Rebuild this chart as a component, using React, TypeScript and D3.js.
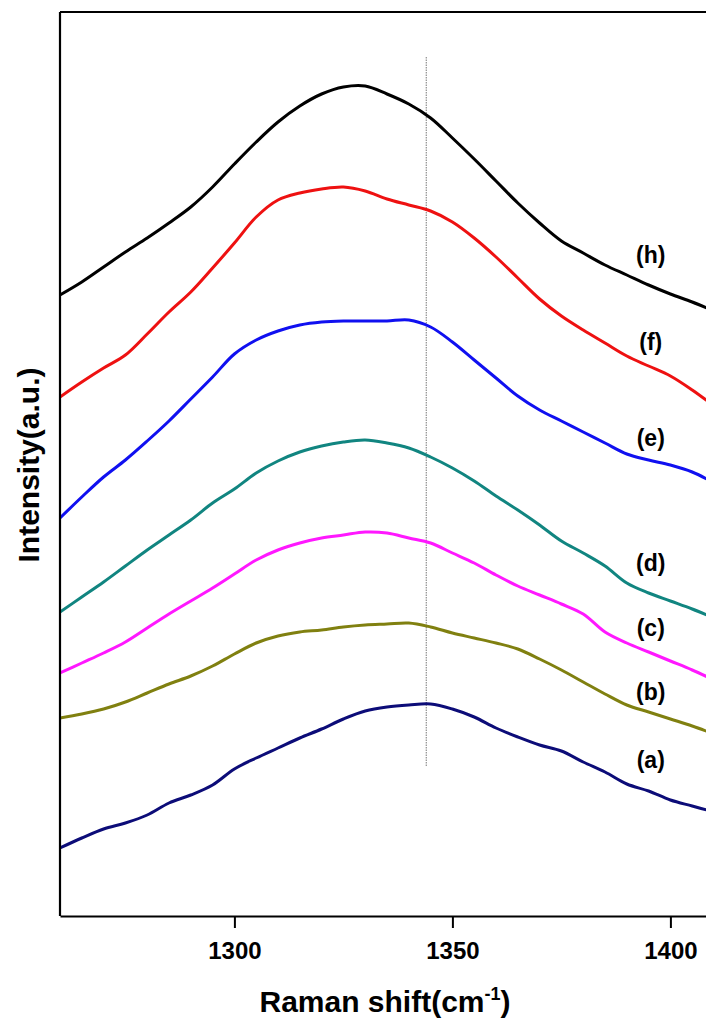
import { useEffect, useRef } from "react";
import * as d3 from "d3";

// Raman shift grid (cm-1), shared by every spectrum
const shifts = [
  1260, 1265, 1270, 1275, 1280, 1285, 1290, 1295, 1300, 1305, 1310, 1315, 1320, 1325, 1330, 1335,
  1340, 1345, 1350, 1355, 1360, 1365, 1370, 1375, 1380, 1385, 1390, 1395, 1400, 1405, 1410,
];

// stacked intensities (a.u.)
const seriesA = [68, 78, 87, 93, 101, 113, 121, 131, 147, 158, 168, 178, 187, 197, 205, 209, 211, 212, 207, 199, 188, 179, 171, 165, 154, 144, 132, 125, 116, 110, 104];
const seriesB = [198, 202, 207, 214, 223, 232, 240, 250, 262, 273, 280, 284, 286, 289, 291, 292, 293, 289, 283, 278, 273, 267, 257, 246, 234, 222, 211, 204, 197, 190, 182];
const seriesC = [243, 253, 263, 274, 288, 302, 315, 328, 342, 356, 366, 373, 378, 381, 384, 383, 378, 373, 363, 353, 341, 330, 321, 312, 302, 284, 273, 264, 255, 246, 236];
const seriesD = [304, 319, 334, 350, 366, 381, 396, 413, 427, 443, 455, 464, 470, 474, 476, 473, 468, 459, 448, 435, 420, 406, 391, 375, 363, 350, 333, 323, 315, 307, 298];
const seriesE = [398, 419, 439, 456, 475, 495, 517, 539, 562, 576, 585, 591, 594, 595, 595, 595, 596, 589, 574, 556, 538, 520, 506, 495, 484, 473, 462, 456, 451, 444, 433];
const seriesF = [519, 534, 548, 561, 582, 604, 624, 648, 673, 699, 716, 723, 727, 729, 725, 717, 711, 705, 694, 678, 659, 638, 617, 600, 586, 573, 560, 550, 540, 526, 510];
const seriesH = [621, 634, 649, 664, 678, 693, 709, 729, 752, 774, 794, 810, 822, 829, 830, 822, 812, 798, 778, 757, 735, 713, 693, 675, 663, 651, 641, 631, 622, 614, 605];

const labels = ["(a)", "(b)", "(c)", "(d)", "(e)", "(f)", "(h)"];
const labelY = [156, 224, 288, 353, 478, 574, 661];
const colors = ["#0c0c78", "#808010", "#ff18ff", "#118580", "#1010f0", "#ee1111", "#000000"];
const xTicks = [1300, 1350, 1400];
const refShift = 1344;

const RamanChart = () => {
  const svgRef = useRef<SVGSVGElement>(null);

  useEffect(() => {
    if (!svgRef.current) return;
    const svg = d3.select(svgRef.current);
    svg.selectAll("*").remove();

    const left = 60;
    const top = 12;
    const bottom = 916;
    const font = "'Liberation Sans', Arial, sans-serif";

    const x = d3.scaleLinear().domain([1260, 1420]).range([left, left + 160 * 4.36]);
    const y = d3.scaleLinear().domain([0, 904]).range([bottom, top]);

    svg
      .append("defs")
      .append("clipPath")
      .attr("id", "plot")
      .append("rect")
      .attr("x", left)
      .attr("y", top)
      .attr("width", 800)
      .attr("height", bottom - top);

    const all = [seriesA, seriesB, seriesC, seriesD, seriesE, seriesF, seriesH];
    const line = d3
      .line<number>()
      .x((_, i) => x(shifts[i]))
      .y((d) => y(d))
      .curve(d3.curveCatmullRom.alpha(0.5));

    // dotted reference line at the D band
    svg
      .append("line")
      .attr("x1", x(refShift))
      .attr("x2", x(refShift))
      .attr("y1", y(859))
      .attr("y2", y(149))
      .attr("stroke", "#777")
      .attr("stroke-width", 1)
      .attr("stroke-dasharray", "1.5 1");

    const g = svg.append("g").attr("clip-path", "url(#plot)");
    g.selectAll(".spec")
      .data(all)
      .join("path")
      .attr("class", "spec")
      .attr("d", (d) => line(d))
      .attr("fill", "none")
      .attr("stroke", (_, i) => colors[i])
      .attr("stroke-width", 3)
      .attr("stroke-linejoin", "round");

    svg
      .selectAll(".lab")
      .data(labels)
      .join("text")
      .attr("class", "lab")
      .attr("x", x(1395.5))
      .attr("y", (_, i) => y(labelY[i]))
      .attr("dy", "0.35em")
      .attr("text-anchor", "middle")
      .style("font-family", font)
      .style("font-weight", "bold")
      .style("font-size", "23px")
      .text((d) => d);

    // frame: left and top (right edge lies outside the picture)
    const frame = svg.append("g").attr("stroke", "#000").attr("stroke-width", 2.2).attr("fill", "none");
    frame.append("line").attr("x1", left).attr("x2", left).attr("y1", top).attr("y2", bottom);
    frame.append("line").attr("x1", left).attr("x2", 706).attr("y1", top).attr("y2", top);

    const xAxis = svg
      .append("g")
      .attr("transform", `translate(0,${bottom})`)
      .call(
        d3
          .axisBottom(x)
          .tickValues(xTicks)
          .tickFormat(d3.format("d"))
          .tickSize(12)
          .tickPadding(14)
          .tickSizeOuter(0)
      );
    xAxis.select(".domain").attr("stroke-width", 2.2);
    xAxis.selectAll(".tick line").attr("stroke-width", 2);
    xAxis
      .selectAll(".tick text")
      .style("font-family", font)
      .style("font-weight", "bold")
      .style("font-size", "24px");

    const title = svg
      .append("text")
      .attr("x", 385)
      .attr("y", 1012)
      .attr("text-anchor", "middle")
      .style("font-family", font)
      .style("font-weight", "bold")
      .style("font-size", "30px");
    title.append("tspan").text("Raman shift(cm");
    title.append("tspan").attr("dy", -12).style("font-size", "18px").text("-1");
    title.append("tspan").attr("dy", 12).text(")");

    svg
      .append("text")
      .attr("transform", `translate(39,465) rotate(-90)`)
      .attr("text-anchor", "middle")
      .style("font-family", font)
      .style("font-weight", "bold")
      .style("font-size", "30px")
      .text("Intensity(a.u.)");
  }, []);

  return (
    <svg
      ref={svgRef}
      width={706}
      height={1026}
      style={{ position: "absolute", left: 0, top: 0, background: "#fff" }}
    />
  );
};

export default function App() {
  return <RamanChart />;
}
